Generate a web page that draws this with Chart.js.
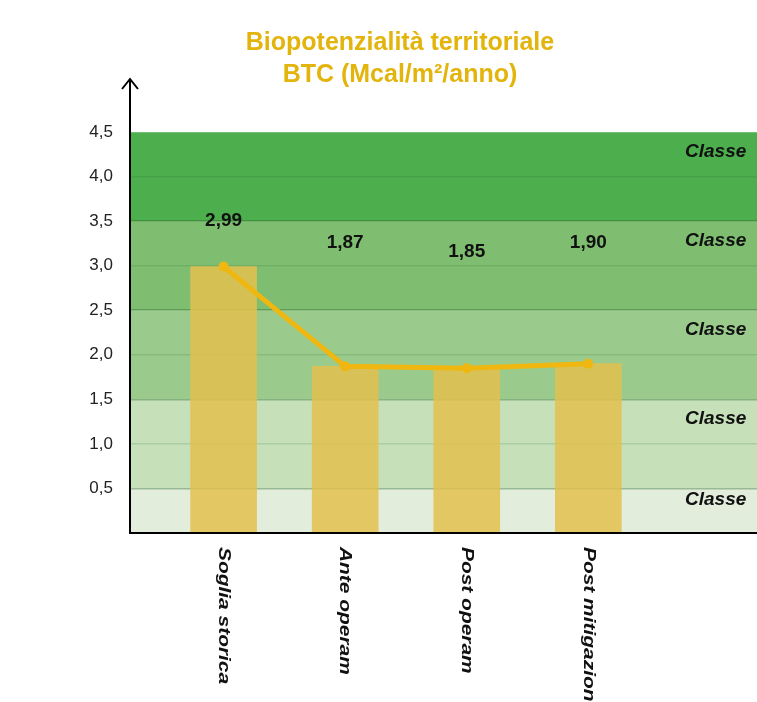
<!DOCTYPE html>
<html lang="it">
<head>
<meta charset="utf-8">
<title>Biopotenzialità territoriale</title>
<script src="https://cdn.jsdelivr.net/npm/chart.js@4/dist/chart.umd.min.js"></script>
<style>
  html, body { margin: 0; padding: 0; background: #fff; overflow: hidden; }
  #wrap { width: 757px; height: 702px; overflow: hidden; }
</style>
</head>
<body>
<div id="wrap"><canvas id="btcChart" width="800" height="702"></canvas></div>
<script>
// Dati del grafico
const categorie = ['Soglia storica', 'Ante operam', 'Post operam', 'Post mitigazione'];
const valoriBTC = [2.99, 1.87, 1.85, 1.90];
const etichetteValori = ['2,99', '1,87', '1,85', '1,90'];
const limitiClassi = [0, 0.5, 1.5, 2.5, 3.5, 4.5];
const nomiClassi = ['Classe', 'Classe', 'Classe', 'Classe', 'Classe'];

// colori delle fasce (dal basso verso l'alto)
const coloriClassi = ['#e2eddb', '#c6e1b9', '#9acb8c', '#7fbe71', '#4cae4d'];
const GIALLO_BARRE = 'rgba(226, 192, 78, 0.86)';
const GIALLO_LINEA = '#efb70f';
const FONT = 'Liberation Sans, Arial, Helvetica, sans-serif';

Chart.defaults.font.family = FONT;

// quota (in unità dell'asse y) delle etichette numeriche
const quoteEtichette = [3.45, 3.2, 3.1, 3.2];

const puntiBarre = valoriBTC.map((v, i) => ({ x: i, y: v }));

// linee di griglia: più marcate sui limiti tra le classi
function coloreGriglia(ctx) {
    const v = ctx.tick ? ctx.tick.value : null;
    if (v === 4.5) return 'rgba(255, 255, 255, 0.45)';
    if (limitiClassi.includes(v)) return 'rgba(40, 100, 40, 0.38)';
    return 'rgba(40, 100, 40, 0.16)';
}

const decorazioni = {
    id: 'decorazioni',
    beforeDraw(chart) {
        const { ctx, chartArea: a, scales: { y } } = chart;
        ctx.save();
        for (let i = 0; i < limitiClassi.length - 1; i++) {
            const yTop = y.getPixelForValue(limitiClassi[i + 1]);
            const yBot = y.getPixelForValue(limitiClassi[i]);
            ctx.fillStyle = coloriClassi[i];
            ctx.fillRect(a.left, yTop, a.right - a.left, yBot - yTop);
        }
        ctx.restore();
    },
    afterDraw(chart) {
        const { ctx, chartArea: a, scales: { x, y } } = chart;
        ctx.save();

        // assi con freccia
        ctx.strokeStyle = '#000';
        ctx.lineWidth = 2;
        ctx.beginPath();
        ctx.moveTo(a.left, a.bottom);
        ctx.lineTo(a.left, 80);
        ctx.moveTo(a.left - 1, a.bottom);
        ctx.lineTo(a.right, a.bottom);
        ctx.stroke();
        ctx.beginPath();
        ctx.moveTo(a.left - 8, 89);
        ctx.lineTo(a.left, 79);
        ctx.lineTo(a.left + 8, 89);
        ctx.stroke();

        // etichette dei valori
        ctx.fillStyle = '#111';
        ctx.font = 'bold 19px ' + FONT;
        ctx.textAlign = 'center';
        ctx.textBaseline = 'alphabetic';
        etichetteValori.forEach((t, i) => {
            ctx.fillText(t, x.getPixelForValue(i), y.getPixelForValue(quoteEtichette[i]));
        });

        // nomi delle classi
        ctx.font = 'italic bold 19px ' + FONT;
        ctx.textAlign = 'left';
        for (let i = 0; i < nomiClassi.length; i++) {
            const yTop = y.getPixelForValue(limitiClassi[i + 1]);
            const yBot = y.getPixelForValue(limitiClassi[i]);
            ctx.fillText(nomiClassi[i], 685, Math.min(yTop + 25, yBot - 28));
        }

        // categorie ruotate (lettura dall'alto in basso)
        ctx.font = 'italic bold 17px ' + FONT;
        ctx.textBaseline = 'middle';
        categorie.forEach((c, i) => {
            ctx.save();
            ctx.translate(x.getPixelForValue(i), a.bottom + 14);
            ctx.rotate(Math.PI / 2);
            ctx.scale(1.23, 1);
            ctx.fillText(c, 0, 0);
            ctx.restore();
        });

        ctx.restore();
    }
};

new Chart(document.getElementById('btcChart').getContext('2d'), {
    type: 'bar',
    data: {
        datasets: [{
            type: 'line',
            label: 'BTC',
            data: puntiBarre,
            borderColor: GIALLO_LINEA,
            backgroundColor: GIALLO_LINEA,
            borderWidth: 5,
            pointRadius: 5,
            pointBorderWidth: 0,
            tension: 0,
            order: 0
        }, {
            label: 'BTC',
            data: puntiBarre,
            backgroundColor: GIALLO_BARRE,
            borderWidth: 0,
            barThickness: 66,
            order: 1
        }]
    },
    options: {
        responsive: false,
        animation: false,
        layout: { padding: { left: 0, right: 0, top: 0, bottom: 169 } },
        scales: {
            x: {
                type: 'linear',
                display: false,
                offset: false,
                bounds: 'data',
                min: -0.77,
                max: 4.70,
                grid: { offset: false }
            },
            y: {
                min: 0,
                max: 4.5,
                afterFit: s => { s.width = 130; },
                border: { display: false },
                grid: {
                    color: coloreGriglia,
                    lineWidth: 1.5,
                    drawTicks: false
                },
                ticks: {
                    stepSize: 0.5,
                    padding: 17,
                    color: '#222',
                    font: { size: 17 },
                    callback: v => v === 0 ? '' : v.toFixed(1).replace('.', ',')
                }
            }
        },
        plugins: {
            legend: { display: false },
            tooltip: { enabled: false },
            title: {
                display: true,
                text: ['Biopotenzialità territoriale', 'BTC (Mcal/m²/anno)'],
                color: '#e2b40c',
                font: { size: 25, weight: 'bold', lineHeight: 1.28 },
                padding: { top: 27, bottom: 41 }
            }
        }
    },
    plugins: [decorazioni]
});
</script>
</body>
</html>
